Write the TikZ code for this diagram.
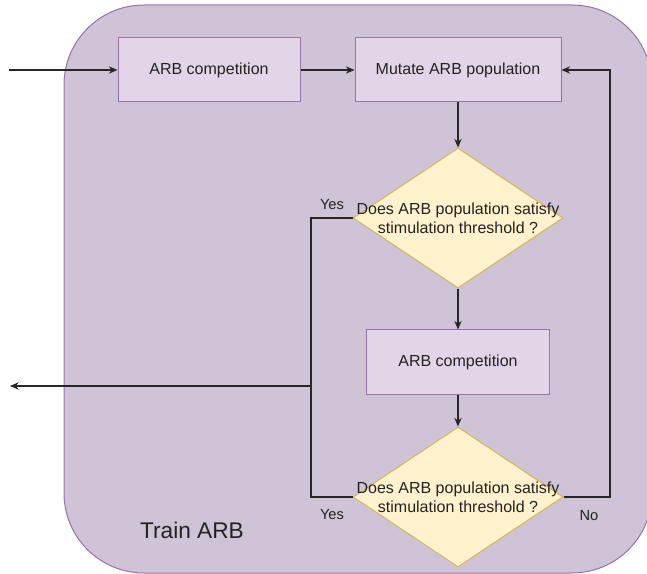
\documentclass[tikz,border=0pt]{standalone}
\usepackage{fontspec}
\setmainfont{Liberation Sans}
\usepackage{xcolor}
\usetikzlibrary{arrows.meta,positioning,shapes.geometric}

\definecolor{groupfill}{HTML}{CFC3D7}
\definecolor{purplefill}{HTML}{E1D5E7}
\definecolor{purpleline}{HTML}{9673A6}
\definecolor{yellowfill}{HTML}{FFF2CC}
\definecolor{yellowline}{HTML}{D6B656}
\definecolor{textgray}{HTML}{222222}

\begin{document}
\begin{tikzpicture}[
    x=0.75pt, y=-0.75pt,
    font=\fontsize{12}{14.5}\selectfont, text=textgray,
    box/.style={draw=purpleline, fill=purplefill, line width=0.75pt, minimum height=48pt},
    decision/.style={diamond, draw=yellowline, fill=yellowfill, line width=0.75pt,
        inner sep=0pt, minimum width=157.5pt, minimum height=105pt},
    arr/.style={-{Stealth[length=6.5pt,width=5.5pt]}, line width=0.8pt, draw=black!85},
    line/.style={line width=0.8pt, draw=black!85}
]
\useasboundingbox (0,0) rectangle (647,574);
% outer group
\draw[draw=purpleline, fill=groupfill, line width=0.75pt, rounded corners=60pt] (64,5) rectangle (652,573);
\node[font=\fontsize{17}{20}\selectfont] (train) at (192,530) {Train ARB};

\node[box, minimum width=136.5pt] (comp1) at (209,70) {ARB competition};
\node[box, minimum width=154.5pt, right=40.5pt of comp1] (mutate) {Mutate ARB population};
\node[decision, below=33.75pt of mutate, label={[align=center]center:Does ARB population satisfy\\stimulation threshold ?}] (check1) {};
\node[box, minimum width=137pt, below=30.75pt of check1] (comp2) {ARB competition};
\node[decision, below=24pt of comp2, label={[align=center]center:Does ARB population satisfy\\stimulation threshold ?}] (check2) {};

\coordinate (in) at (9,70);
\coordinate (out) at (10,386);
\coordinate (yesjoin) at (311,386);
\coordinate (noturn) at (610,70);

\draw[arr] (in) -- (comp1);
\draw[arr] (comp1) -- (mutate);
\draw[arr] (mutate) -- (check1);
\draw[arr] (check1) -- (comp2);
\draw[arr] (comp2) -- (check2);
\draw[line] (check1.west) -| (yesjoin) |- (check2.west);
\draw[arr] (yesjoin) -- (out);
\draw[arr] (check2.east) -| (noturn) -- (mutate.east);

\node[font=\fontsize{11}{13}\selectfont] (yes1) at (332,205) {Yes};
\node[font=\fontsize{11}{13}\selectfont] (yes2) at (332,515) {Yes};
\node[font=\fontsize{11}{13}\selectfont] (no) at (589,516) {No};
\end{tikzpicture}
\end{document}
